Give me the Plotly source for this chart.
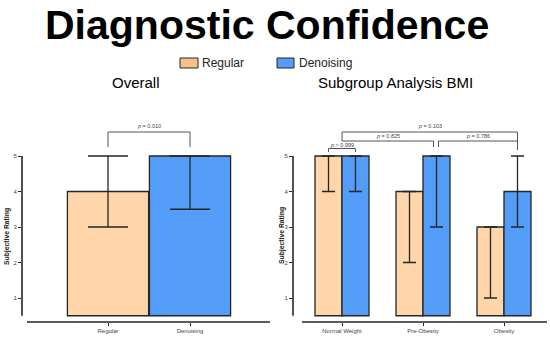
import plotly.graph_objects as go

# ---------------- data ----------------
groups = ["Regular", "Denoising"]
overall_median = [4, 5]
overall_low = [3, 3.5]
overall_high = [5, 5]

bmi_categories = ["Normal Weight", "Pre-Obesity", "Obesity"]
bmi_regular_median = [5, 4, 3]
bmi_regular_low = [4, 2, 1]
bmi_regular_high = [5, 4, 3]
bmi_denoising_median = [5, 5, 4]
bmi_denoising_low = [4, 3, 3]
bmi_denoising_high = [5, 5, 5]

ytick_vals = [1, 2, 3, 4, 5]
overall_p = "p = 0.010"
bmi_p = ["p > 0.999", "p = 0.825", "p = 0.786", "p = 0.103"]

# ---------------- style ----------------
PEACH = "#FED6A9"
BLUE = "#539CF8"
EDGE = "#262626"
GREY = "#444444"
FONT = "Liberation Sans, Arial, sans-serif"
W, H = 550, 338
BASE = 0.5


def px_x(p):
    return p / W


def px_y(p):
    return (H - p) / H


# vertical mapping (shared by both panels)
unit = 35.5
y5_px = 156
bottom_px, top_px = 322, 122
y_lo = BASE - (bottom_px - (y5_px + 4.5 * unit)) / unit
y_hi = 5 + (y5_px - top_px) / unit

fig = go.Figure()

# ---- overall panel ----
fig.add_trace(go.Bar(
    x=groups, y=[m - BASE for m in overall_median], base=BASE,
    width=0.99,
    marker=dict(color=[PEACH, BLUE], line=dict(color=EDGE, width=1.3)),
    error_y=dict(type="data", symmetric=False,
                 array=[h - m for h, m in zip(overall_high, overall_median)],
                 arrayminus=[m - l for m, l in zip(overall_median, overall_low)],
                 color=EDGE, thickness=1.3, width=20),
    xaxis="x", yaxis="y", showlegend=False,
))

# ---- BMI panel ----
bw = 1 / 3
fig.add_trace(go.Bar(
    x=bmi_categories, y=[m - BASE for m in bmi_regular_median], base=BASE,
    width=bw, offset=-bw,
    marker=dict(color=PEACH, line=dict(color=EDGE, width=1.3)),
    error_y=dict(type="data", symmetric=False,
                 array=[h - m for h, m in zip(bmi_regular_high, bmi_regular_median)],
                 arrayminus=[m - l for m, l in zip(bmi_regular_median, bmi_regular_low)],
                 color=EDGE, thickness=1.3, width=6.5),
    xaxis="x2", yaxis="y2", showlegend=False, name="Regular",
))
fig.add_trace(go.Bar(
    x=bmi_categories, y=[m - BASE for m in bmi_denoising_median], base=BASE,
    width=bw, offset=0,
    marker=dict(color=BLUE, line=dict(color=EDGE, width=1.3)),
    error_y=dict(type="data", symmetric=False,
                 array=[h - m for h, m in zip(bmi_denoising_high, bmi_denoising_median)],
                 arrayminus=[m - l for m, l in zip(bmi_denoising_median, bmi_denoising_low)],
                 color=EDGE, thickness=1.3, width=6.5),
    xaxis="x2", yaxis="y2", showlegend=False, name="Denoising",
))

ydom = [px_y(bottom_px), px_y(top_px)]
yax = dict(range=[y_lo, y_hi], domain=ydom, tickvals=ytick_vals, ticks="outside",
           ticklen=3, tickwidth=1, tickcolor=EDGE, showgrid=False, zeroline=False,
           showline=False, tickfont=dict(family=FONT, size=6, color=GREY))
xax = dict(ticks="outside", ticklen=3, tickwidth=1, tickcolor=EDGE, showgrid=False,
           zeroline=False, showline=False, type="category",
           tickfont=dict(family=FONT, size=6, color=GREY))

fig.update_layout(
    width=W, height=H, margin=dict(l=0, r=0, t=0, b=0),
    plot_bgcolor="white", paper_bgcolor="white", barmode="overlay",
    xaxis=dict(xax, domain=[px_x(22), px_x(272)], range=[-86 / 82, 2.0]),
    yaxis=dict(yax, anchor="x"),
    xaxis2=dict(xax, domain=[px_x(293), px_x(549)], range=[-49 / 81, 2 + 45 / 81]),
    yaxis2=dict(yax, anchor="x2"),
)

shapes = []
# axis lines (offset, Prism style)
for xr, yr, xl in (("x", "y", (-81 / 82, 162 / 82)), ("x2", "y2", (-40 / 81, 205 / 81))):
    shapes.append(dict(type="line", xref=xr + " domain", yref=yr, x0=0, x1=0,
                       y0=BASE, y1=5, line=dict(color=EDGE, width=1.6)))
    shapes.append(dict(type="line", xref=xr, yref=yr + " domain", x0=xl[0], x1=xl[1],
                       y0=0, y1=0, line=dict(color=EDGE, width=1.6)))


def bracket(xr, yr, x0, x1, yline, yleg0, yleg1):
    pts = []
    if yleg0 is not None:
        pts.append(f"M{x0},{yleg0} L{x0},{yline}")
    else:
        pts.append(f"M{x0},{yline}")
    pts.append(f"L{x1},{yline}")
    if yleg1 is not None:
        pts.append(f"L{x1},{yleg1}")
    shapes.append(dict(type="path", xref=xr, yref=yr, path=" ".join(pts),
                       line=dict(color="#555555", width=1)))


def yv(p):
    return 5 + (y5_px - p) / unit


# overall bracket
bracket("x", "y", 0, 1, yv(132), yv(147), yv(147))
# BMI brackets
d = bw / 2
bracket("x2", "y2", -d, d, yv(148.5), yv(152), yv(152))
bracket("x2", "y2", 0, 1 + d - 3 / 81, yv(141), None, yv(147))
bracket("x2", "y2", 1 + d + 2 / 81, 2 + d, yv(141), yv(147), yv(150))
bracket("x2", "y2", 0, 2 + d, yv(132), yv(141), yv(141))

# legend swatches
shapes.append(dict(type="rect", xref="paper", yref="paper", x0=px_x(180), x1=px_x(198),
                   y0=px_y(68), y1=px_y(58), fillcolor="#F7C18C",
                   line=dict(color=EDGE, width=1)))
shapes.append(dict(type="rect", xref="paper", yref="paper", x0=px_x(277), x1=px_x(294),
                   y0=px_y(68), y1=px_y(58), fillcolor=BLUE,
                   line=dict(color=EDGE, width=1)))

ann = []
ptxt = dict(family=FONT, size=5.5, color=GREY)


def plabel(xr, yr, x, ypix, text):
    t = text.replace("p", "<i>p</i>", 1)
    ann.append(dict(xref=xr, yref=yr, x=x, y=yv(ypix), text=t, showarrow=False,
                    yanchor="middle", xanchor="center", font=ptxt))


plabel("x", "y", 0.5, 126, overall_p)
plabel("x2", "y2", 0, 145, bmi_p[0])
plabel("x2", "y2", (1 + d - 3 / 81) / 2, 136, bmi_p[1])
plabel("x2", "y2", (1 + d + 2 / 81 + 2 + d) / 2, 136, bmi_p[2])
plabel("x2", "y2", (2 + d) / 2, 126, bmi_p[3])

# titles
ann.append(dict(xref="paper", yref="paper", x=px_x(267), y=px_y(25), text="<b>Diagnostic Confidence</b>",
                showarrow=False, xanchor="center", yanchor="middle",
                font=dict(family=FONT, size=41, color="black")))
ann.append(dict(xref="paper", yref="paper", x=px_x(136), y=px_y(82), text="Overall",
                showarrow=False, xanchor="center", yanchor="middle",
                font=dict(family=FONT, size=15, color="black")))
ann.append(dict(xref="paper", yref="paper", x=px_x(395.5), y=px_y(82), text="Subgroup Analysis BMI",
                showarrow=False, xanchor="center", yanchor="middle",
                font=dict(family=FONT, size=15, color="black")))
# legend text
ann.append(dict(xref="paper", yref="paper", x=px_x(200), y=px_y(63), text="Regular",
                showarrow=False, xanchor="left", yanchor="middle",
                font=dict(family=FONT, size=12, color="#222222")))
ann.append(dict(xref="paper", yref="paper", x=px_x(297), y=px_y(63), text="Denoising",
                showarrow=False, xanchor="left", yanchor="middle",
                font=dict(family=FONT, size=12, color="#222222")))
# y axis titles
for xp, ypix in ((7, 237), (282, 236)):
    ann.append(dict(xref="paper", yref="paper", x=px_x(xp), y=px_y(ypix),
                    text="<b>Subjective Rating</b>", textangle=-90, showarrow=False,
                    xanchor="center", yanchor="middle",
                    font=dict(family=FONT, size=6.8, color="#222222")))

fig.update_layout(shapes=shapes, annotations=ann)
fig.write_html("out.html", config={"displayModeBar": False},
               post_script="document.body.style.margin='0';")
